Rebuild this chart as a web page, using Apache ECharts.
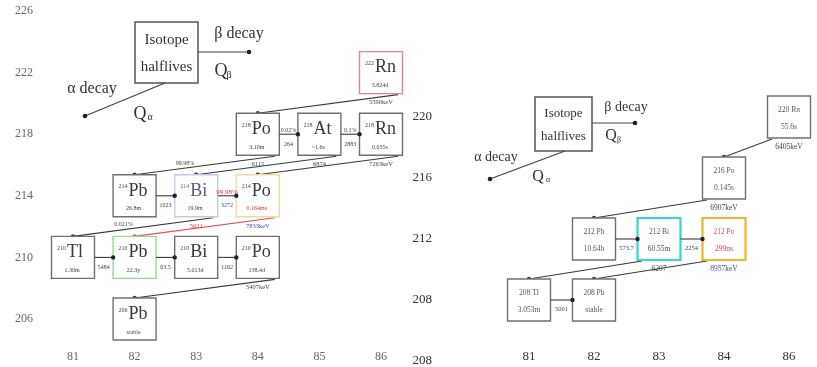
<!DOCTYPE html>
<html>
<head>
<meta charset="utf-8">
<script src="https://cdn.jsdelivr.net/npm/echarts@6/dist/echarts.min.js"></script>
<style>
  html, body { margin: 0; padding: 0; background: #fff; }
  #chart { width: 817px; height: 367px; }
</style>
</head>
<body>
<div id="chart"></div>
<script>
// ---------- Radium series (from 222Rn), left panel ----------
// [id, Z, A, element, half-life]
const radiumNuclides = [
  ['222Rn', 86, 222, 'Rn', '3.824d'],
  ['218Po', 84, 218, 'Po', '3.10m'],
  ['218At', 85, 218, 'At', '~1.6s'],
  ['218Rn', 86, 218, 'Rn', '0.035s'],
  ['214Pb', 82, 214, 'Pb', '26.8m'],
  ['214Bi', 83, 214, 'Bi', '19.9m'],
  ['214Po', 84, 214, 'Po', '0.164ms'],
  ['210Tl', 81, 210, 'Tl', '1.30m'],
  ['210Pb', 82, 210, 'Pb', '22.3y'],
  ['210Bi', 83, 210, 'Bi', '5.013d'],
  ['210Po', 84, 210, 'Po', '138.4d'],
  ['206Pb', 82, 206, 'Pb', 'stable']
];
// alpha decays: [parent, daughter, branch]
const radiumAlpha = [
  ['222Rn', '218Po', ''],
  ['218Po', '214Pb', '99.98%'],
  ['218At', '214Bi', ''],
  ['218Rn', '214Po', ''],
  ['214Bi', '210Tl', '0.021%'],
  ['214Po', '210Pb', ''],
  ['210Po', '206Pb', '']
];
// alpha Q values: [parent, text]
const radiumQAlpha = [
  ['222Rn', '5590keV'],
  ['218Po', '6115'],
  ['218At', '6874'],
  ['218Rn', '7263keV'],
  ['214Bi', '5621'],
  ['214Po', '7833keV'],
  ['210Po', '5407keV']
];
// beta decays: [parent, daughter, branch, Q (keV)]
const radiumBeta = [
  ['218Po', '218At', '0.02%', '264'],
  ['218At', '218Rn', '0.1%', '2883'],
  ['214Pb', '214Bi', '', '1023'],
  ['214Bi', '214Po', '99.98%', '3272'],
  ['210Tl', '210Pb', '', '5484'],
  ['210Pb', '210Bi', '', '63.5'],
  ['210Bi', '210Po', '', '1162']
];
const radiumZTicks = [81, 82, 83, 84, 85, 86];
const radiumATicks = [206, 210, 214, 218, 222, 226];

// ---------- Thorium series (from 220Rn), right panel ----------
const thoriumNuclides = [
  ['220Rn', 86, 220, 'Rn', '55.6s'],
  ['216Po', 84, 216, 'Po', '0.145s'],
  ['212Pb', 82, 212, 'Pb', '10.64h'],
  ['212Bi', 83, 212, 'Bi', '60.55m'],
  ['212Po', 84, 212, 'Po', '299ns'],
  ['208Tl', 81, 208, 'Tl', '3.053m'],
  ['208Pb', 82, 208, 'Pb', 'stable']
];
const thoriumAlpha = [
  ['220Rn', '216Po', ''],
  ['216Po', '212Pb', ''],
  ['212Bi', '208Tl', ''],
  ['212Po', '208Pb', '']
];
const thoriumQAlpha = [
  ['220Rn', '6405keV'],
  ['216Po', '6907keV'],
  ['212Bi', '6207'],
  ['212Po', '8957keV']
];
const thoriumBeta = [
  ['212Pb', '212Bi', '', '573.7'],
  ['212Bi', '212Po', '', '2254'],
  ['208Tl', '208Pb', '', '5001']
];
const thoriumZCats = ['81', '82', '83', '84', '86'];
const thoriumATicks = ['208', '208', '212', '216', '220']; // A = 204, 208, ... 220

// ---------- styling ----------
const SERIF = '"Liberation Serif", "DejaVu Serif", serif';
const BOX_W = 43, BOX_H = 42;
const frameColor = {
  '222Rn': '#e3838f', '214Bi': '#c9c7e8', '214Po': '#f1dba0', '210Pb': '#93da93',
  '212Bi': '#35d3da', '212Po': '#f0b52a'
};
const frameWidth = { '212Bi': 2.2, '212Po': 2.2 };
const symbolColor = { '214Bi': '#5a5a7c' };
const massColor = { '214Bi': '#7a5ab0' };
const halfColor = { '214Po': '#d63a3a', '212Po': '#cc3f55', '212Bi': '#5a4070' };
const nameColor = { '212Po': '#c8506a', '212Bi': '#4f5f5f' };
const lineColor = { '214Po>210Pb': '#e05050' };
const branchColor = { '214Bi>214Po': '#d63a3a' };
const qColor = { '214Bi>214Po': '#3b4fb0' };
const qAlphaColor = { '214Po': '#3b4fb0', '214Bi': '#d63a3a', '212Po': '#4a4a8a' };

const radiumPos = {};
radiumNuclides.forEach(n => { radiumPos[n[0]] = [n[1], n[2]]; });
const thoriumPos = {};
thoriumNuclides.forEach(n => { thoriumPos[n[0]] = [thoriumZCats.indexOf(String(n[1])), n[2]]; });

function txt(text, x, y, size, fill, align) {
  return { type: 'text', style: { text: text, x: x, y: y, align: align || 'center',
    verticalAlign: 'middle', fontSize: size, fontFamily: SERIF, fill: fill || '#3a3a3a' } };
}

// large element symbol with superscript mass number
function radiumBox(n, c) {
  const id = n[0];
  return { type: 'group', children: [
    { type: 'rect', shape: { x: c[0] - BOX_W / 2, y: c[1] - BOX_H / 2, width: BOX_W, height: BOX_H },
      style: { fill: '#fff', stroke: frameColor[id] || '#707070', lineWidth: frameWidth[id] || 1.4 } },
    txt(String(n[2]), c[0] - 7, c[1] - 9, 6, massColor[id] || '#444', 'right'),
    txt(n[3], c[0] - 6, c[1] - 5, 18, symbolColor[id] || '#3a3a3a', 'left'),
    txt(n[4], c[0] - 1, c[1] + 13, 6, halfColor[id] || '#444')
  ] };
}

// two-line compact box
function thoriumBox(n, c) {
  const id = n[0];
  return { type: 'group', children: [
    { type: 'rect', shape: { x: c[0] - BOX_W / 2, y: c[1] - BOX_H / 2, width: BOX_W, height: BOX_H },
      style: { fill: '#fff', stroke: frameColor[id] || '#707070', lineWidth: frameWidth[id] || 1.4 } },
    txt(n[2] + ' ' + n[3], c[0], c[1] - 7, 7.5, nameColor[id] || '#555'),
    txt(n[4], c[0], c[1] + 10, 7.5, halfColor[id] || '#555')
  ] };
}

function nuclideSeries(gi, list, pos, draw) {
  return {
    type: 'custom', xAxisIndex: gi, yAxisIndex: gi, clip: false, z: 3, silent: true,
    data: list.map(n => pos[n[0]]),
    renderItem: (params, api) => draw(list[params.dataIndex], api.coord([api.value(0), api.value(1)]))
  };
}

function alphaSeries(gi, list, pos, startDx) {
  return {
    type: 'custom', xAxisIndex: gi, yAxisIndex: gi, clip: false, z: 2, silent: true,
    encode: { x: [0, 2], y: [1, 3] },
    data: list.map(d => pos[d[0]].concat(pos[d[1]])),
    renderItem(params, api) {
      const d = list[params.dataIndex];
      const p = api.coord([api.value(0), api.value(1)]);
      const q = api.coord([api.value(2), api.value(3)]);
      const s = [p[0] + startDx, p[1] + BOX_H / 2 + 1];
      const e = [q[0], q[1] - BOX_H / 2];
      const col = lineColor[d[0] + '>' + d[1]] || '#3a3a3a';
      const kids = [
        { type: 'line', shape: { x1: s[0], y1: s[1], x2: e[0], y2: e[1] }, style: { stroke: col, lineWidth: 1.1 } },
        { type: 'circle', shape: { cx: e[0], cy: e[1], r: 2.2 }, style: { fill: col } }
      ];
      if (d[2]) {
        kids.push(txt(d[2], s[0] + (e[0] - s[0]) * 0.64, s[1] + (e[1] - s[1]) * 0.64 - 5, 6, '#444'));
      }
      return { type: 'group', children: kids };
    }
  };
}

function betaSeries(gi, list, pos, qDy, fs) {
  return {
    type: 'custom', xAxisIndex: gi, yAxisIndex: gi, clip: false, z: 4, silent: true,
    encode: { x: [0, 2], y: [1, 3] },
    data: list.map(d => pos[d[0]].concat(pos[d[1]])),
    renderItem(params, api) {
      const d = list[params.dataIndex];
      const key = d[0] + '>' + d[1];
      const p = api.coord([api.value(0), api.value(1)]);
      const q = api.coord([api.value(2), api.value(3)]);
      const s = [p[0] + BOX_W / 2, p[1]];
      const e = [q[0] - BOX_W / 2, q[1]];
      const mx = (s[0] + e[0]) / 2;
      const kids = [
        { type: 'line', shape: { x1: s[0], y1: s[1], x2: e[0], y2: e[1] }, style: { stroke: '#3a3a3a', lineWidth: 1.1 } },
        { type: 'circle', shape: { cx: e[0], cy: e[1], r: 2.2 }, style: { fill: '#222' } },
        txt(d[3], mx, p[1] + qDy, fs, qColor[key] || '#444')
      ];
      if (d[2]) kids.push(txt(d[2], mx, p[1] - 4, fs + (branchColor[key] ? 1 : 0), branchColor[key] || '#444'));
      return { type: 'group', children: kids };
    }
  };
}

function qAlphaSeries(gi, list, pos, fs) {
  return {
    type: 'custom', xAxisIndex: gi, yAxisIndex: gi, clip: false, z: 4, silent: true,
    data: list.map(d => pos[d[0]]),
    renderItem(params, api) {
      const d = list[params.dataIndex];
      const c = api.coord([api.value(0), api.value(1)]);
      return txt(d[1], c[0], c[1] + BOX_H / 2 + 9, fs, qAlphaColor[d[0]] || '#444');
    }
  };
}

// key drawn in the upper-left of each panel
function keyGraphics(box, fsBox, beta, alpha, fsLab) {
  const cx = box.x + box.w / 2;
  return [
    { type: 'rect', shape: { x: box.x, y: box.y, width: box.w, height: box.h },
      style: { fill: '#fff', stroke: '#555', lineWidth: 1.5 } },
    { type: 'text', x: cx, y: box.y + box.h * 0.3, style: { text: 'Isotope', align: 'center', verticalAlign: 'middle', fontSize: fsBox, fontFamily: SERIF, fill: '#333' } },
    { type: 'text', x: cx, y: box.y + box.h * 0.74, style: { text: 'halflives', align: 'center', verticalAlign: 'middle', fontSize: fsBox, fontFamily: SERIF, fill: '#333' } },
    { type: 'line', shape: { x1: box.x + box.w, y1: beta.y, x2: beta.x2, y2: beta.y }, style: { stroke: '#444', lineWidth: 1.2 } },
    { type: 'circle', shape: { cx: beta.x2, cy: beta.y, r: 2.3 }, style: { fill: '#222' } },
    { type: 'text', x: beta.tx, y: beta.ty, style: { text: 'β decay', align: 'center', verticalAlign: 'middle', fontSize: fsLab, fontFamily: SERIF, fill: '#333' } },
    { type: 'text', x: beta.qx, y: beta.qy, style: { text: 'Q', align: 'center', verticalAlign: 'middle', fontSize: fsLab + 2, fontFamily: SERIF, fill: '#333' } },
    { type: 'text', x: beta.qx + 8, y: beta.qy + 4, style: { text: 'β', align: 'center', verticalAlign: 'middle', fontSize: fsLab - 6, fontFamily: SERIF, fill: '#333' } },
    { type: 'line', shape: { x1: alpha.x1, y1: box.y + box.h, x2: alpha.x2, y2: alpha.y2 }, style: { stroke: '#444', lineWidth: 1.2 } },
    { type: 'circle', shape: { cx: alpha.x2, cy: alpha.y2, r: 2.3 }, style: { fill: '#222' } },
    { type: 'text', x: alpha.tx, y: alpha.ty, style: { text: 'α decay', align: 'center', verticalAlign: 'middle', fontSize: fsLab, fontFamily: SERIF, fill: '#333' } },
    { type: 'text', x: alpha.qx, y: alpha.qy, style: { text: 'Q', align: 'center', verticalAlign: 'middle', fontSize: fsLab + 2, fontFamily: SERIF, fill: '#333' } },
    { type: 'text', x: alpha.qx + 10, y: alpha.qy + 3, style: { text: 'α', align: 'center', verticalAlign: 'middle', fontSize: fsLab - 6, fontFamily: SERIF, fill: '#333' } }
  ];
}

const chart = echarts.init(document.getElementById('chart'), null, { renderer: 'canvas' });

const axisLabelBase = { fontFamily: SERIF };

chart.setOption({
  animation: false,
  backgroundColor: '#fff',
  grid: [
    { left: 73, top: 11, width: 308, height: 308, containLabel: false, outerBoundsMode: 'none' },
    { left: 529, top: 117, width: 260, height: 244, containLabel: false, outerBoundsMode: 'none' }
  ],
  xAxis: [
    { type: 'value', gridIndex: 0, min: 81, max: 86, interval: 1,
      axisLine: { show: false }, axisTick: { show: false }, splitLine: { show: false },
      axisLabel: Object.assign({}, axisLabelBase, { color: '#666', fontSize: 12, margin: 32,
        formatter: v => radiumZTicks.includes(v) ? String(v) : '' }) },
    { type: 'category', gridIndex: 1, data: thoriumZCats, boundaryGap: false,
      axisLine: { show: false }, axisTick: { show: false }, splitLine: { show: false },
      axisLabel: Object.assign({}, axisLabelBase, { color: '#333', fontSize: 13, margin: -4, verticalAlign: 'middle', interval: 0 }) }
  ],
  yAxis: [
    { type: 'value', gridIndex: 0, min: 206, max: 226, interval: 2,
      axisLine: { show: false }, axisTick: { show: false }, splitLine: { show: false },
      axisLabel: Object.assign({}, axisLabelBase, { color: '#666', fontSize: 12, margin: 40, padding: [8, 0, 0, 0],
        formatter: v => radiumATicks.includes(v) ? String(v) : '' }) },
    { type: 'value', gridIndex: 1, min: 204, max: 220, interval: 4,
      axisLine: { show: false }, axisTick: { show: false }, splitLine: { show: false },
      axisLabel: Object.assign({}, axisLabelBase, { color: '#333', fontSize: 13, margin: 97,
        formatter: v => thoriumATicks[Math.round((v - 204) / 4)] || '' }) }
  ],
  graphic: keyGraphics(
    { x: 135, y: 22, w: 63, h: 61 }, 15,
    { y: 52, x2: 249, tx: 239, ty: 34, qx: 221, qy: 71 },
    { x1: 165, x2: 85, y2: 116, tx: 92, ty: 89, qx: 140, qy: 114 }, 16
  ).concat(keyGraphics(
    { x: 535, y: 97, w: 57, h: 54 }, 13,
    { y: 123, x2: 635, tx: 626, ty: 107, qx: 611, qy: 136 },
    { x1: 565, x2: 490, y2: 179, tx: 496, ty: 157, qx: 538, qy: 177 }, 14
  )),
  series: [
    alphaSeries(0, radiumAlpha, radiumPos, 17),
    betaSeries(0, radiumBeta, radiumPos, 10, 6),
    nuclideSeries(0, radiumNuclides, radiumPos, radiumBox),
    qAlphaSeries(0, radiumQAlpha, radiumPos, 6.5),
    alphaSeries(1, thoriumAlpha, thoriumPos, -17),
    betaSeries(1, thoriumBeta, thoriumPos, 9, 6.5),
    nuclideSeries(1, thoriumNuclides, thoriumPos, thoriumBox),
    qAlphaSeries(1, thoriumQAlpha, thoriumPos, 7.5)
  ]
});
</script>
</body>
</html>
